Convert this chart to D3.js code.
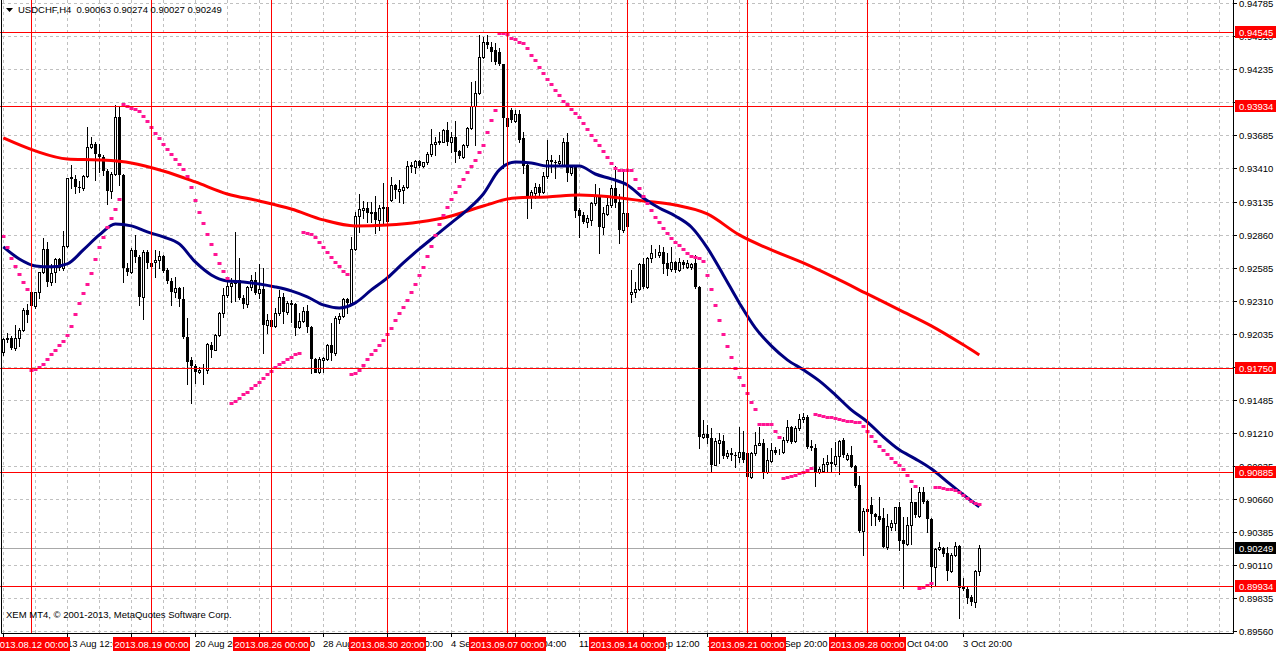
<!DOCTYPE html>
<html>
<head>
<meta charset="utf-8">
<script src="https://cdn.jsdelivr.net/npm/d3@7"></script>
<style>
html, body { margin: 0; padding: 0; background: #fff; }
svg { display: block; font-family: "Liberation Sans", Arial, sans-serif; font-size: 9.5px; }
</style>
</head>
<body>
<svg width="1276" height="652"></svg>
<script>
// USDCHF H4 bars
var opens = [
  0.91883, 0.91992, 0.92000, 0.91917, 0.92000, 0.92066, 0.92233, 0.92383, 0.92266, 0.92383,
  0.92549, 0.92740, 0.92466, 0.92549, 0.92657, 0.92582, 0.92765, 0.93339, 0.93323, 0.93256,
  0.93248, 0.93348, 0.93589, 0.93614, 0.93531, 0.93506, 0.93390, 0.93223, 0.93364, 0.93839,
  0.93356, 0.92582, 0.92549, 0.92732, 0.92674, 0.92341, 0.92715, 0.92624, 0.92632, 0.92649,
  0.92682, 0.92566, 0.92474, 0.92383, 0.92416, 0.92324, 0.92008, 0.91817, 0.91767, 0.91717,
  0.91733, 0.91733, 0.91942, 0.91900, 0.92025, 0.92208, 0.92358, 0.92432, 0.92458, 0.92482,
  0.92333, 0.92283, 0.92424, 0.92482, 0.92374, 0.92408, 0.92108, 0.92150, 0.92100, 0.92208,
  0.92341, 0.92216, 0.92291, 0.92283, 0.92091, 0.92141, 0.92225, 0.92091, 0.91825, 0.91717,
  0.91817, 0.91825, 0.91942, 0.91875, 0.92158, 0.92183, 0.92324, 0.92291, 0.92740, 0.93015,
  0.93065, 0.93081, 0.93040, 0.93048, 0.92982, 0.93081, 0.93090, 0.93148, 0.93273, 0.93223,
  0.93231, 0.93256, 0.93431, 0.93422, 0.93472, 0.93431, 0.93464, 0.93531, 0.93614, 0.93631,
  0.93631, 0.93730, 0.93631, 0.93672, 0.93556, 0.93506, 0.93606, 0.93747, 0.93930, 0.94038,
  0.94338, 0.94463, 0.94421, 0.94396, 0.94379, 0.94280, 0.93832, 0.93897, 0.93806, 0.93864,
  0.93664, 0.93439, 0.93173, 0.93206, 0.93256, 0.93215, 0.93348, 0.93481, 0.93464, 0.93456,
  0.93439, 0.93631, 0.93373, 0.93422, 0.93065, 0.93023, 0.92965, 0.92982, 0.93123, 0.93190,
  0.92919, 0.93032, 0.93106, 0.93248, 0.93131, 0.92899, 0.93040, 0.92366, 0.92383, 0.92408,
  0.92615, 0.92424, 0.92665, 0.92707, 0.92690, 0.92715, 0.92624, 0.92570, 0.92632, 0.92566,
  0.92632, 0.92591, 0.92591, 0.92624, 0.92424, 0.91176, 0.91201, 0.91168, 0.90943, 0.91126,
  0.91143, 0.91018, 0.91043, 0.91027, 0.91010, 0.91052, 0.91043, 0.90843, 0.91043, 0.91110,
  0.91126, 0.90885, 0.90977, 0.91068, 0.91052, 0.91052, 0.91151, 0.91260, 0.91143, 0.91251,
  0.91326, 0.91343, 0.91102, 0.91085, 0.90885, 0.90893, 0.90952, 0.90969, 0.90952, 0.91018,
  0.91151, 0.90994, 0.91027, 0.90935, 0.90777, 0.90394, 0.90577, 0.90610, 0.90535, 0.90519,
  0.90502, 0.90261, 0.90427, 0.90461, 0.90594, 0.90319, 0.90286, 0.90444, 0.90635, 0.90519,
  0.90718, 0.90644, 0.90494, 0.90095, 0.90244, 0.90253, 0.90211, 0.90061, 0.90194, 0.90270,
  0.89928, 0.89912, 0.89845, 0.89803, 0.90063
];
var highs = [
  0.92000, 0.92041, 0.92016, 0.92108, 0.92083, 0.92249, 0.92283, 0.92391, 0.92383, 0.92549,
  0.92832, 0.92799, 0.92615, 0.92665, 0.92665, 0.92890, 0.93331, 0.93439, 0.93356, 0.93306,
  0.93356, 0.93755, 0.93672, 0.93631, 0.93614, 0.93523, 0.93406, 0.93381, 0.93938, 0.93922,
  0.93364, 0.92624, 0.92748, 0.92857, 0.92690, 0.92732, 0.92732, 0.92715, 0.92732, 0.92724,
  0.92690, 0.92582, 0.92499, 0.92507, 0.92424, 0.92424, 0.92166, 0.91842, 0.91783, 0.91759,
  0.91783, 0.91958, 0.91967, 0.92033, 0.92216, 0.92416, 0.92482, 0.92499, 0.92882, 0.92665,
  0.92358, 0.92432, 0.92524, 0.92549, 0.92615, 0.92582, 0.92200, 0.92166, 0.92250, 0.92399,
  0.92374, 0.92308, 0.92316, 0.92291, 0.92208, 0.92258, 0.92275, 0.92100, 0.91834, 0.91842,
  0.91842, 0.91950, 0.92125, 0.92183, 0.92208, 0.92333, 0.92333, 0.92840, 0.93048, 0.93198,
  0.93140, 0.93131, 0.93131, 0.93181, 0.93106, 0.93290, 0.93090, 0.93339, 0.93281, 0.93314,
  0.93273, 0.93472, 0.93464, 0.93481, 0.93481, 0.93464, 0.93547, 0.93739, 0.93672, 0.93714,
  0.93739, 0.93797, 0.93714, 0.93806, 0.93564, 0.93614, 0.93755, 0.94130, 0.94138, 0.94521,
  0.94504, 0.94521, 0.94463, 0.94454, 0.94413, 0.94280, 0.93922, 0.93914, 0.93897, 0.93897,
  0.93714, 0.93448, 0.93231, 0.93290, 0.93281, 0.93381, 0.93647, 0.93523, 0.93481, 0.93523,
  0.93664, 0.93706, 0.93439, 0.93431, 0.93081, 0.93048, 0.93023, 0.93131, 0.93281, 0.93248,
  0.93090, 0.93165, 0.93273, 0.93431, 0.93198, 0.93381, 0.93048, 0.92566, 0.92466, 0.92624,
  0.92665, 0.92674, 0.92770, 0.92740, 0.92770, 0.92757, 0.92707, 0.92757, 0.92640, 0.92665,
  0.92649, 0.92649, 0.92624, 0.92690, 0.92432, 0.91318, 0.91276, 0.91251, 0.91168, 0.91209,
  0.91193, 0.91068, 0.91085, 0.91052, 0.91260, 0.91226, 0.91052, 0.91052, 0.91218, 0.91260,
  0.91160, 0.91085, 0.91126, 0.91093, 0.91077, 0.91176, 0.91318, 0.91268, 0.91268, 0.91368,
  0.91376, 0.91359, 0.91151, 0.91118, 0.90927, 0.91002, 0.91027, 0.91085, 0.91135, 0.91151,
  0.91168, 0.91043, 0.91102, 0.90943, 0.90852, 0.90585, 0.90585, 0.90677, 0.90544, 0.90677,
  0.90585, 0.90535, 0.90486, 0.90594, 0.90635, 0.90510, 0.90510, 0.90752, 0.90635, 0.90760,
  0.90760, 0.90652, 0.90502, 0.90253, 0.90303, 0.90261, 0.90261, 0.90211, 0.90303, 0.90278,
  0.90003, 0.89928, 0.89862, 0.90069, 0.90274
];
var lows = [
  0.91858, 0.91967, 0.91908, 0.91900, 0.91933, 0.92058, 0.92133, 0.92266, 0.92249, 0.92333,
  0.92541, 0.92432, 0.92441, 0.92466, 0.92566, 0.92566, 0.92757, 0.93248, 0.93206, 0.93215,
  0.93231, 0.93339, 0.93581, 0.93314, 0.93381, 0.93356, 0.93115, 0.93165, 0.93356, 0.93273,
  0.92466, 0.92524, 0.92541, 0.92632, 0.92275, 0.92158, 0.92582, 0.92582, 0.92507, 0.92582,
  0.92549, 0.92458, 0.92275, 0.92341, 0.92266, 0.92000, 0.91617, 0.91459, 0.91625, 0.91709,
  0.91617, 0.91709, 0.91842, 0.91900, 0.92016, 0.92175, 0.92341, 0.92299, 0.92308, 0.92324,
  0.92249, 0.92258, 0.92399, 0.92366, 0.92333, 0.91875, 0.92041, 0.92050, 0.92091, 0.92191,
  0.92125, 0.92200, 0.92133, 0.92025, 0.92083, 0.92133, 0.92050, 0.91709, 0.91717, 0.91709,
  0.91717, 0.91817, 0.91817, 0.91858, 0.92125, 0.92175, 0.92208, 0.92275, 0.92732, 0.92882,
  0.92998, 0.92965, 0.92965, 0.92874, 0.92899, 0.92957, 0.92957, 0.93140, 0.93165, 0.93131,
  0.93123, 0.93248, 0.93381, 0.93373, 0.93422, 0.93422, 0.93448, 0.93514, 0.93523, 0.93614,
  0.93631, 0.93606, 0.93547, 0.93464, 0.93498, 0.93498, 0.93589, 0.93739, 0.93606, 0.94030,
  0.94329, 0.94413, 0.94305, 0.94280, 0.94271, 0.93414, 0.93755, 0.93797, 0.93797, 0.93631,
  0.93373, 0.92998, 0.93081, 0.93165, 0.93181, 0.93206, 0.93331, 0.93381, 0.93331, 0.93431,
  0.93431, 0.93306, 0.93356, 0.93007, 0.92840, 0.92957, 0.92919, 0.92940, 0.93106, 0.92707,
  0.92865, 0.93023, 0.93090, 0.93090, 0.92790, 0.92882, 0.92915, 0.92299, 0.92341, 0.92399,
  0.92416, 0.92416, 0.92632, 0.92674, 0.92674, 0.92541, 0.92524, 0.92557, 0.92549, 0.92557,
  0.92582, 0.92582, 0.92574, 0.92416, 0.91085, 0.91168, 0.91126, 0.90885, 0.90960, 0.90960,
  0.91002, 0.91002, 0.90985, 0.90927, 0.90969, 0.90969, 0.90835, 0.90835, 0.91027, 0.91110,
  0.90835, 0.90877, 0.90969, 0.91035, 0.91035, 0.91043, 0.91135, 0.91126, 0.91135, 0.91234,
  0.91301, 0.91085, 0.91068, 0.90768, 0.90877, 0.90885, 0.90885, 0.90885, 0.90935, 0.90868,
  0.91010, 0.90985, 0.90927, 0.90760, 0.90386, 0.90194, 0.90544, 0.90444, 0.90444, 0.90477,
  0.90261, 0.90244, 0.90402, 0.90402, 0.90236, 0.89920, 0.90278, 0.90286, 0.90510, 0.90510,
  0.90627, 0.90386, 0.89928, 0.89945, 0.90236, 0.90186, 0.89986, 0.90053, 0.90186, 0.89670,
  0.89903, 0.89795, 0.89778, 0.89762, 0.90027
];
var closes = [
  0.91992, 0.92000, 0.91917, 0.92000, 0.92066, 0.92233, 0.92191, 0.92266, 0.92383, 0.92549,
  0.92740, 0.92466, 0.92541, 0.92657, 0.92582, 0.92765, 0.93331, 0.93323, 0.93256, 0.93248,
  0.93348, 0.93589, 0.93614, 0.93531, 0.93506, 0.93390, 0.93223, 0.93364, 0.93839, 0.93356,
  0.92582, 0.92549, 0.92732, 0.92674, 0.92341, 0.92715, 0.92624, 0.92591, 0.92649, 0.92682,
  0.92557, 0.92474, 0.92383, 0.92416, 0.92324, 0.92008, 0.91800, 0.91767, 0.91717, 0.91733,
  0.91733, 0.91950, 0.91900, 0.92025, 0.92208, 0.92358, 0.92432, 0.92458, 0.92482, 0.92333,
  0.92283, 0.92424, 0.92482, 0.92374, 0.92408, 0.92108, 0.92150, 0.92091, 0.92208, 0.92341,
  0.92216, 0.92291, 0.92275, 0.92083, 0.92141, 0.92225, 0.92091, 0.91825, 0.91709, 0.91825,
  0.91834, 0.91942, 0.91875, 0.92166, 0.92183, 0.92324, 0.92291, 0.92740, 0.93015, 0.93073,
  0.93081, 0.93040, 0.93048, 0.92982, 0.93081, 0.93090, 0.92965, 0.93273, 0.93231, 0.93240,
  0.93256, 0.93431, 0.93439, 0.93472, 0.93431, 0.93464, 0.93531, 0.93614, 0.93631, 0.93639,
  0.93730, 0.93631, 0.93672, 0.93547, 0.93514, 0.93606, 0.93747, 0.93930, 0.94038, 0.94338,
  0.94463, 0.94438, 0.94379, 0.94296, 0.94280, 0.93832, 0.93755, 0.93814, 0.93864, 0.93648,
  0.93431, 0.93173, 0.93215, 0.93256, 0.93206, 0.93348, 0.93481, 0.93464, 0.93456, 0.93472,
  0.93631, 0.93373, 0.93422, 0.93056, 0.93015, 0.92965, 0.92998, 0.93123, 0.93190, 0.92919,
  0.93040, 0.93106, 0.93248, 0.93123, 0.92899, 0.93040, 0.92919, 0.92383, 0.92408, 0.92615,
  0.92424, 0.92665, 0.92707, 0.92707, 0.92715, 0.92615, 0.92570, 0.92632, 0.92566, 0.92632,
  0.92607, 0.92624, 0.92615, 0.92424, 0.91176, 0.91201, 0.91168, 0.90943, 0.91143, 0.91151,
  0.91018, 0.91043, 0.91027, 0.91018, 0.91052, 0.90985, 0.90843, 0.91043, 0.91110, 0.91126,
  0.90885, 0.90985, 0.91068, 0.91043, 0.91052, 0.91151, 0.91260, 0.91135, 0.91251, 0.91326,
  0.91343, 0.91093, 0.91085, 0.90885, 0.90910, 0.90952, 0.90969, 0.90952, 0.91018, 0.91143,
  0.91027, 0.91027, 0.90927, 0.90768, 0.90394, 0.90560, 0.90552, 0.90535, 0.90510, 0.90486,
  0.90261, 0.90436, 0.90461, 0.90594, 0.90311, 0.90286, 0.90444, 0.90635, 0.90527, 0.90718,
  0.90635, 0.90494, 0.90095, 0.90244, 0.90261, 0.90203, 0.90061, 0.90194, 0.90270, 0.89920,
  0.89912, 0.89837, 0.89803, 0.90061, 0.90249
];

// parabolic SAR, one value per bar
var sar = [
  0.92849, 0.92757, 0.92665, 0.92599, 0.92532, 0.92466, 0.92408,
  0.91734, 0.91742, 0.91759, 0.91784, 0.91825, 0.91867, 0.91900, 0.91942, 0.91975, 0.92025,
  0.92100, 0.92200, 0.92291, 0.92374, 0.92449, 0.92541, 0.92657, 0.92757, 0.92840, 0.92923,
  0.92998, 0.93073, 0.93156,
  0.93947, 0.93930, 0.93913, 0.93905, 0.93888, 0.93847, 0.93805, 0.93755, 0.93705, 0.93664,
  0.93614, 0.93572, 0.93531, 0.93489, 0.93448, 0.93406, 0.93348, 0.93256, 0.93148, 0.93048,
  0.92957, 0.92865, 0.92782, 0.92699, 0.92624, 0.92557, 0.92499,
  0.91459, 0.91476, 0.91501, 0.91534, 0.91551, 0.91584, 0.91609, 0.91634, 0.91667, 0.91700,
  0.91725, 0.91759, 0.91784, 0.91800, 0.91825, 0.91842, 0.91867, 0.91875,
  0.92882, 0.92873, 0.92865, 0.92840, 0.92799, 0.92757, 0.92715, 0.92674, 0.92632, 0.92599,
  0.92557, 0.92532,
  0.91700, 0.91709, 0.91734, 0.91775, 0.91825, 0.91867, 0.91900, 0.91942, 0.91983, 0.92033,
  0.92083, 0.92150, 0.92208, 0.92258, 0.92316, 0.92383, 0.92449, 0.92524, 0.92591, 0.92682,
  0.92765, 0.92857, 0.92948, 0.93023, 0.93090, 0.93156, 0.93215, 0.93265, 0.93323, 0.93381,
  0.93431, 0.93481, 0.93547, 0.93606, 0.93714, 0.93814, 0.93897,
  0.94537, 0.94537, 0.94529, 0.94496, 0.94487, 0.94463, 0.94454, 0.94413, 0.94354, 0.94313,
  0.94255, 0.94205, 0.94155, 0.94113, 0.94063, 0.94022, 0.93972, 0.93947, 0.93905, 0.93872,
  0.93839, 0.93789, 0.93739, 0.93689, 0.93647, 0.93606, 0.93556, 0.93506, 0.93456, 0.93414,
  0.93398, 0.93398, 0.93398, 0.93398, 0.93323, 0.93248, 0.93181, 0.93123, 0.93065, 0.93007,
  0.92965, 0.92915, 0.92873, 0.92832, 0.92799, 0.92774, 0.92740, 0.92707, 0.92682, 0.92674,
  0.92665, 0.92641, 0.92524, 0.92408, 0.92274, 0.92150, 0.92033, 0.91933, 0.91842, 0.91750,
  0.91675, 0.91609, 0.91542, 0.91467, 0.91409, 0.91284, 0.91284, 0.91284, 0.91284, 0.91226,
  0.91176,
  0.90835, 0.90843, 0.90852, 0.90860, 0.90877, 0.90885, 0.90902, 0.90918,
  0.91368, 0.91359, 0.91351, 0.91343, 0.91343, 0.91334, 0.91326, 0.91318, 0.91309, 0.91309,
  0.91301, 0.91301, 0.91268, 0.91226, 0.91185, 0.91143, 0.91101, 0.91068, 0.91035, 0.91001,
  0.90968, 0.90943, 0.90910, 0.90860, 0.90810, 0.90769,
  0.89920, 0.89928, 0.89945, 0.89961,
  0.90760, 0.90760, 0.90752, 0.90743, 0.90743, 0.90735, 0.90719, 0.90694, 0.90669, 0.90644,
  0.90627, 0.90619
];

// slow moving average (red), sampled every 8 bars
var slowBars = [0, 8, 16, 24, 32, 40, 48, 56, 64, 72, 80, 88, 96, 104, 112, 120,
  128, 136, 144, 152, 160, 168, 176, 184, 192, 200, 208, 216, 224, 232, 240, 244];
var slowMA = [0.93664, 0.93556, 0.93489, 0.93481, 0.93456, 0.93389, 0.93298, 0.93198,
  0.93140, 0.93073, 0.92982, 0.92932, 0.92940, 0.92965, 0.93015, 0.93098,
  0.93165, 0.93173, 0.93190, 0.93173, 0.93140, 0.93106, 0.93032, 0.92857,
  0.92732, 0.92624, 0.92499, 0.92366, 0.92233, 0.92100, 0.91942, 0.91858];

// fast moving average (navy), sampled every 4 bars
var fastBars = d3.range(0, 245, 4);
var fastMA = [0.92757, 0.92657, 0.92599, 0.92591, 0.92616, 0.92732, 0.92857, 0.92948,
  0.92932, 0.92882, 0.92840, 0.92782, 0.92632, 0.92524, 0.92474, 0.92466,
  0.92449, 0.92424, 0.92391, 0.92341, 0.92274, 0.92249, 0.92291, 0.92399,
  0.92499, 0.92624, 0.92740, 0.92849, 0.92957, 0.93065, 0.93198, 0.93398,
  0.93464, 0.93456, 0.93431, 0.93431, 0.93431, 0.93364, 0.93323, 0.93273,
  0.93165, 0.93081, 0.93015, 0.92923, 0.92749, 0.92524, 0.92291, 0.92083,
  0.91933, 0.91817, 0.91734, 0.91642, 0.91526, 0.91401, 0.91301, 0.91176,
  0.91068, 0.90993, 0.90910, 0.90802, 0.90694, 0.90594];

var priceTicks = [0.94785, 0.94510, 0.94235, 0.93960, 0.93685, 0.93410, 0.93135, 0.92860,
  0.92585, 0.92310, 0.92035, 0.91760, 0.91485, 0.91210, 0.90935, 0.90660,
  0.90385, 0.90110, 0.89835, 0.89560];
var levels = [0.94545, 0.93934, 0.91750, 0.90885, 0.89934];

var markerBars = [7, 37, 67, 96, 126, 156, 186, 216];
var markerLabels = ['2013.08.12 00:00', '2013.08.19 00:00', '2013.08.26 00:00', '2013.08.30 20:00',
  '2013.09.07 00:00', '2013.09.14 00:00', '2013.09.21 00:00', '2013.09.28 00:00'];

var timeBars = [0, 16, 32, 48, 64, 80, 96, 112, 128, 144, 160, 176, 192, 208, 224, 240];
var timeLabels = ['8 Aug 20:00', '13 Aug 12:00', '16 Aug 04:00', '20 Aug 20:00', '23 Aug 12:00',
  '28 Aug 04:00', '30 Aug 20:00', '4 Sep 12:00', '9 Sep 04:00', '11 Sep 20:00', '16 Sep 12:00',
  '19 Sep 04:00', '23 Sep 20:00', '26 Sep 12:00', '1 Oct 04:00', '3 Oct 20:00'];

var axisX = 1233, axisY = 633;
var last = closes.length - 1;

var x = d3.scaleLinear().domain([0, last]).range([3.3, 979.3]);
var y = d3.scaleLinear().domain([0.89560, 0.94785]).range([631, 3.3]);
function px(i) { return Math.round(x(i)); }
function py(v) { return Math.round(y(v)); }

var svg = d3.select('svg');
svg.append('rect').attr('width', 1276).attr('height', 652).attr('fill', '#fff');

// grid
var grid = svg.append('g').attr('stroke', '#c0c0c0').attr('stroke-dasharray', '3,3');
grid.selectAll('line.h').data(priceTicks).enter().append('line')
    .attr('x1', 2).attr('x2', axisX)
    .attr('y1', function (d) { return py(d) + 0.5; })
    .attr('y2', function (d) { return py(d) + 0.5; });
grid.selectAll('line.v').data(d3.range(0, 305, 8)).enter().append('line')
    .attr('x1', function (d) { return px(d) + 0.5; })
    .attr('x2', function (d) { return px(d) + 0.5; })
    .attr('y1', 0).attr('y2', axisY);

// bid line
svg.append('line')
    .attr('x1', 0).attr('x2', axisX)
    .attr('y1', py(closes[last]) + 0.5).attr('y2', py(closes[last]) + 0.5)
    .attr('stroke', '#a8a8a8');

// candles
var bars = svg.append('g').selectAll('g').data(d3.range(closes.length)).enter().append('g');
bars.append('line')
    .attr('x1', function (i) { return px(i) + 0.5; })
    .attr('x2', function (i) { return px(i) + 0.5; })
    .attr('y1', function (i) { return py(highs[i]); })
    .attr('y2', function (i) { return py(lows[i]) + 1; })
    .attr('stroke', '#000');
bars.append('rect')
    .attr('x', function (i) { return closes[i] >= opens[i] ? px(i) - 0.5 : px(i) - 1; })
    .attr('y', function (i) {
        var t = py(Math.max(opens[i], closes[i]));
        return closes[i] >= opens[i] ? t + 0.5 : t;
    })
    .attr('width', function (i) { return closes[i] >= opens[i] ? 2 : 3; })
    .attr('height', function (i) {
        var h = py(Math.min(opens[i], closes[i])) - py(Math.max(opens[i], closes[i]));
        return closes[i] >= opens[i] ? h : Math.max(h, 1);
    })
    .attr('fill', function (i) { return closes[i] >= opens[i] ? '#fff' : '#000'; })
    .attr('stroke', function (i) { return closes[i] >= opens[i] ? '#000' : 'none'; });

// moving averages
var maLine = d3.line()
    .x(function (d) { return x(d[0]); })
    .y(function (d) { return y(d[1]); })
    .curve(d3.curveMonotoneX);
svg.append('path')
    .attr('d', maLine(d3.zip(slowBars, slowMA)))
    .attr('fill', 'none').attr('stroke', '#ff0000').attr('stroke-width', 3);
svg.append('path')
    .attr('d', maLine(d3.zip(fastBars, fastMA)))
    .attr('fill', 'none').attr('stroke', '#000080').attr('stroke-width', 3);

// parabolic SAR
svg.append('g').selectAll('rect').data(sar).enter().append('rect')
    .attr('x', function (d, i) { return px(i) - 1.5; })
    .attr('y', function (d) { return py(d) - 1; })
    .attr('width', 4).attr('height', 3)
    .attr('fill', '#ff1493');

// user lines
svg.append('g').selectAll('line').data(levels).enter().append('line')
    .attr('x1', 0).attr('x2', axisX)
    .attr('y1', function (d) { return py(d) + 0.5; })
    .attr('y2', function (d) { return py(d) + 0.5; })
    .attr('stroke', '#ff0000');
svg.append('g').selectAll('line').data(markerBars).enter().append('line')
    .attr('x1', function (d) { return px(d) + 0.5; })
    .attr('x2', function (d) { return px(d) + 0.5; })
    .attr('y1', 0).attr('y2', axisY)
    .attr('stroke', '#ff0000');

// frame
svg.append('path')
    .attr('d', 'M1.5,0V' + (axisY + 0.5) + 'H' + (axisX + 0.5) + 'V0')
    .attr('fill', 'none').attr('stroke', '#000');

// price scale
var pAxis = svg.append('g');
pAxis.selectAll('line').data(priceTicks).enter().append('line')
    .attr('x1', axisX).attr('x2', axisX + 4)
    .attr('y1', function (d) { return py(d) + 0.5; })
    .attr('y2', function (d) { return py(d) + 0.5; })
    .attr('stroke', '#000');
pAxis.selectAll('text').data(priceTicks).enter().append('text')
    .attr('x', 1239).attr('y', function (d) { return py(d) + 4; })
    .attr('fill', '#000')
    .text(function (d) { return d.toFixed(5); });

function priceTag(v, bg) {
    var g = svg.append('g');
    g.append('rect').attr('x', 1235).attr('y', py(v) - 6).attr('width', 41).attr('height', 12).attr('fill', bg);
    g.append('text').attr('x', 1239).attr('y', py(v) + 4).attr('fill', '#fff').text(v.toFixed(5));
}
levels.forEach(function (v) { priceTag(v, '#ff0000'); });
priceTag(closes[last], '#000');

// time scale
var tAxis = svg.append('g');
tAxis.selectAll('line').data(timeBars).enter().append('line')
    .attr('x1', function (d) { return px(d) + 0.5; })
    .attr('x2', function (d) { return px(d) + 0.5; })
    .attr('y1', axisY).attr('y2', axisY + 4)
    .attr('stroke', '#000');
tAxis.selectAll('text').data(timeBars).enter().append('text')
    .attr('x', function (d) { return px(d); })
    .attr('y', 647)
    .attr('fill', '#000')
    .text(function (d, i) { return timeLabels[i]; });

var tags = svg.append('g').selectAll('g').data(markerBars).enter().append('g');
tags.append('rect')
    .attr('x', function (d) { return px(d) - 38; })
    .attr('y', 637).attr('width', 77).attr('height', 14)
    .attr('fill', '#ff0000');
tags.append('text')
    .attr('x', function (d) { return px(d) + 0.5; })
    .attr('y', 647.5)
    .attr('text-anchor', 'middle')
    .attr('fill', '#fff')
    .text(function (d, i) { return markerLabels[i]; });

// header and copyright
svg.append('path').attr('d', 'M6,8H13L9.5,12Z').attr('fill', '#000');
svg.append('text')
    .attr('x', 18).attr('y', 13)
    .style('white-space', 'pre')
    .attr('fill', '#000')
    .text('USDCHF,H4  ' + [opens[last], highs[last], lows[last], closes[last]].map(function (v) { return v.toFixed(5); }).join(' '));
svg.append('text')
    .attr('x', 6).attr('y', 618)
    .attr('fill', '#000')
    .text('XEM MT4, \u00a9 2001-2013, MetaQuotes Software Corp.');
</script>
</body>
</html>
